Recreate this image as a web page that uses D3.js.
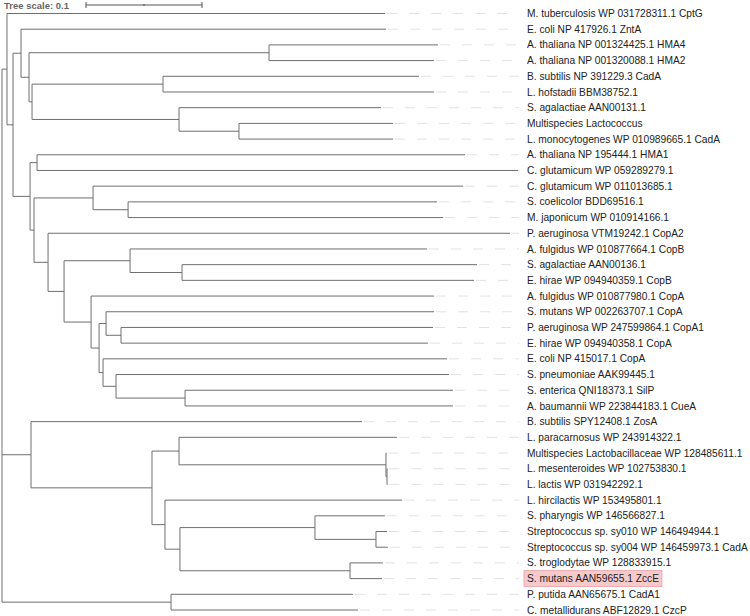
<!DOCTYPE html>
<html>
<head>
<meta charset="utf-8">
<script src="https://cdn.jsdelivr.net/npm/d3@7"></script>
<style>
  body { margin: 0; background: #fff; }
  text { font-family: "Liberation Sans", Arial, sans-serif; }
</style>
</head>
<body>
<div id="tree"></div>
<script>
// leaf labels, top to bottom
const leafNames = [
  "M. tuberculosis WP 031728311.1 CptG",
  "E. coli NP 417926.1 ZntA",
  "A. thaliana NP 001324425.1 HMA4",
  "A. thaliana NP 001320088.1 HMA2",
  "B. subtilis NP 391229.3 CadA",
  "L. hofstadii BBM38752.1",
  "S. agalactiae AAN00131.1",
  "Multispecies Lactococcus",
  "L. monocytogenes WP 010989665.1 CadA",
  "A. thaliana NP 195444.1 HMA1",
  "C. glutamicum WP 059289279.1",
  "C. glutamicum WP 011013685.1",
  "S. coelicolor BDD69516.1",
  "M. japonicum WP 010914166.1",
  "P. aeruginosa VTM19242.1 CopA2",
  "A. fulgidus WP 010877664.1 CopB",
  "S. agalactiae AAN00136.1",
  "E. hirae WP 094940359.1 CopB",
  "A. fulgidus WP 010877980.1 CopA",
  "S. mutans WP 002263707.1 CopA",
  "P. aeruginosa WP 247599864.1 CopA1",
  "E. hirae WP 094940358.1 CopA",
  "E. coli NP 415017.1 CopA",
  "S. pneumoniae AAK99445.1",
  "S. enterica QNI18373.1 SilP",
  "A. baumannii WP 223844183.1 CueA",
  "B. subtilis SPY12408.1 ZosA",
  "L. paracarnosus WP 243914322.1",
  "Multispecies Lactobacillaceae WP 128485611.1",
  "L. mesenteroides WP 102753830.1",
  "L. lactis WP 031942292.1",
  "L. hircilactis WP 153495801.1",
  "S. pharyngis WP 146566827.1",
  "Streptococcus sp. sy010 WP 146494944.1",
  "Streptococcus sp. sy004 WP 146459973.1 CadA",
  "S. troglodytae WP 128833915.1",
  "S. mutans AAN59655.1 ZccE",
  "P. putida AAN65675.1 CadA1",
  "C. metallidurans ABF12829.1 CzcP"
];

// highlighted leaves
const highlighted = ["S. mutans AAN59655.1 ZccE"];

// topology with branch lengths; leaves are indices into leafNames
const newick =
  "(((0:0.326,((1:0.3147,((2:0.1457,3:0.1422):0.2069,((4:0.2207,5:0.2336):0.1129," +
  "(6:0.1741,(7:0.1328,8:0.1328):0.0517):0.1267):0.0026):0.0069):0.0069," +
  "((9:0.369,10:0.4147):0.006,((11:0.319,(12:0.2664,13:0.2716):0.0302):0.0509," +
  "(14:0.3983,((15:0.256,(16:0.2543,17:0.2517):0.0448):0.0569," +
  "(18:0.2957,((19:0.2828,(20:0.269,21:0.2647):0.0129):0.006," +
  "(22:0.2966,(23:0.2871,(24:0.231,25:0.231):0.0595):0.0112):0.0034):0.0069):0.0233):0.0138" +
  "):0.0121):0.0034):0.0147):0.0052):0.0043," +
  "(26:0.2853,((27:0.1879,(28:0.0004,(29:0.0004,30:0.0004):0.0009):0.1784):0.0233," +
  "(31:0.2043,((32:0.0603,(33:0.0095,34:0.0103):0.0526):0.1164," +
  "(35:0.0284,36:0.0276):0.1466):0.0129):0.0112):0.1043):0.025," +
  "(37:0.1569,38:0.1612):0.1457);";

const treeScale = 0.1;

function parseNewick(s) {
  let i = 0;
  function node() {
    const n = {};
    if (s[i] === "(") {
      n.children = [];
      i++;
      n.children.push(node());
      while (s[i] === ",") { i++; n.children.push(node()); }
      i++; // ')'
    }
    let name = "";
    while (i < s.length && !":,);".includes(s[i])) name += s[i++];
    if (name) n.leaf = +name;
    n.length = 0;
    if (s[i] === ":") {
      i++;
      let num = "";
      while (i < s.length && !",);".includes(s[i])) num += s[i++];
      n.length = +num;
    }
    return n;
  }
  return node();
}

const width = 750, height = 616;
const svg = d3.select("#tree").append("svg")
  .attr("width", width).attr("height", height);

const root = d3.hierarchy(parseNewick(newick));
root.eachBefore(d => { d.dist = (d.parent ? d.parent.dist : 0) + d.data.length; });

const x = d3.scaleLinear().domain([0, treeScale]).range([2, 118]);
const y = d3.scalePoint().domain(d3.range(leafNames.length)).range([13.5, 610]);
const labelX = 527, guideEnd = 519;

root.eachAfter(d => {
  d.px = x(d.dist);
  if (d.children) {
    d.py = (d.children[0].py + d.children[d.children.length - 1].py) / 2;
  } else {
    d.py = y(d.data.leaf);
  }
});

const g = svg.append("g");

// dashed guides from tips to labels
g.selectAll(".guide")
  .data(root.leaves())
  .join("line")
  .attr("x1", d => d.px + 2).attr("x2", guideEnd)
  .attr("y1", d => d.py).attr("y2", d => d.py)
  .attr("stroke", "#e2e2e2").attr("stroke-width", 1)
  .attr("stroke-dasharray", "10,12");

// horizontal branches
g.selectAll(".hbranch")
  .data(root.descendants().filter(d => d.parent))
  .join("line")
  .attr("x1", d => d.parent.px).attr("x2", d => d.px)
  .attr("y1", d => d.py).attr("y2", d => d.py)
  .attr("stroke", "#6f6f6f").attr("stroke-width", 1);

// vertical connectors
g.selectAll(".vbranch")
  .data(root.descendants().filter(d => d.children))
  .join("line")
  .attr("x1", d => d.px).attr("x2", d => d.px)
  .attr("y1", d => d.children[0].py)
  .attr("y2", d => d.children[d.children.length - 1].py)
  .attr("stroke", "#6f6f6f").attr("stroke-width", 1);

// labels
const labels = g.selectAll(".label")
  .data(root.leaves())
  .join("g")
  .attr("transform", d => `translate(${labelX},${d.py})`);

labels.filter(d => highlighted.includes(leafNames[d.data.leaf]))
  .append("rect")
  .attr("x", -3).attr("y", -8)
  .attr("height", 16)
  .attr("fill", "#f6c9cb").attr("stroke", "#e9a0a4").attr("stroke-width", 0.8);

labels.append("text")
  .attr("dy", "0.35em")
  .attr("font-size", 10.2)
  .attr("fill", "#222")
  .text(d => leafNames[d.data.leaf])
  .each(function() {
    const w = this.getComputedTextLength();
    d3.select(this.parentNode).select("rect").attr("width", w + 6);
  });

// tree scale
const sc = svg.append("g");
sc.append("text")
  .attr("x", 4).attr("y", 9)
  .attr("font-size", 9.5).attr("font-weight", "bold")
  .attr("fill", "#666")
  .text("Tree scale: " + treeScale);
const sx0 = 86, sx1 = sx0 + (x(treeScale) - x(0));
sc.append("line").attr("x1", sx0).attr("x2", sx1).attr("y1", 5).attr("y2", 5)
  .attr("stroke", "#555");
[sx0, (sx0 + sx1) / 2, sx1].forEach((t, i) => {
  sc.append("line").attr("x1", t).attr("x2", t)
    .attr("y1", i === 1 ? 4 : 2).attr("y2", i === 1 ? 6 : 8)
    .attr("stroke", "#555");
});
</script>
</body>
</html>
